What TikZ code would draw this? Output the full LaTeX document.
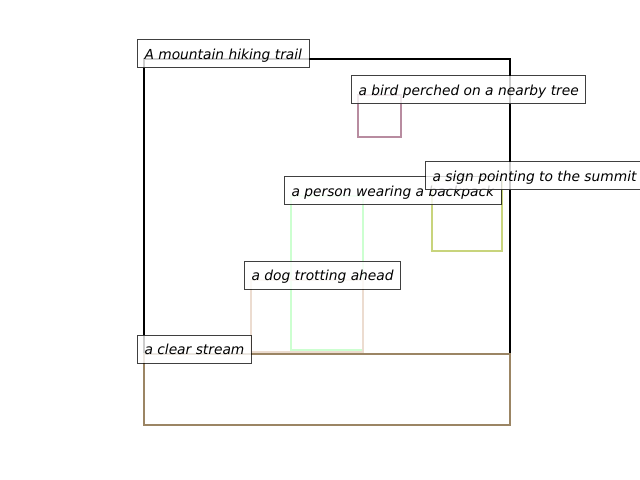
\documentclass[tikz,border=0pt]{standalone}
\usepackage{fontspec}
\setmainfont{DejaVu Sans}
\definecolor{birdc}{HTML}{B88CA0}
\definecolor{signc}{HTML}{C8D47C}
\definecolor{personc}{HTML}{CCFFD0}
\definecolor{dogc}{HTML}{ECDCD0}
\definecolor{streamc}{HTML}{9B8564}
\begin{document}
\begin{tikzpicture}[x=1bp,y=-1bp,
  region/.style={line width=2.4bp},
  lbl/.style={draw=black, draw opacity=0.75, line width=1bp, fill=white, fill opacity=0.8, text opacity=1,
    inner sep=7bp, text height=12.8bp, text depth=1.2bp, anchor=base west, xshift=-7bp, yshift=-0.8bp,
    font=\fontsize{13.85pt}{16pt}\selectfont\itshape}]
\useasboundingbox (0,0) rectangle (640,480);
% regions
\draw[region, black] (144,59) rectangle (510,425);
\draw[region, birdc] (358,95) rectangle (401,137);
\draw[region, signc] (432,181) rectangle (502,251);
\draw[region, personc] (291,196) rectangle (363,350);
\draw[region, dogc] (251,280) rectangle (363,352);
\draw[region, streamc] (144,354) rectangle (510,425);
% labels
\node[lbl] (ltrail) at (144,59) {A mountain hiking trail};
\node[lbl] (lbird) at (358,95) {a bird perched on a nearby tree};
\node[lbl] (lperson) at (291,196) {a person wearing a backpack};
\node[lbl] (lsign) at (432,181) {a sign pointing to the summit};
\node[lbl] (ldog) at (251,280) {a dog trotting ahead};
\node[lbl] (lstream) at (144,354) {a clear stream};
\end{tikzpicture}
\end{document}
